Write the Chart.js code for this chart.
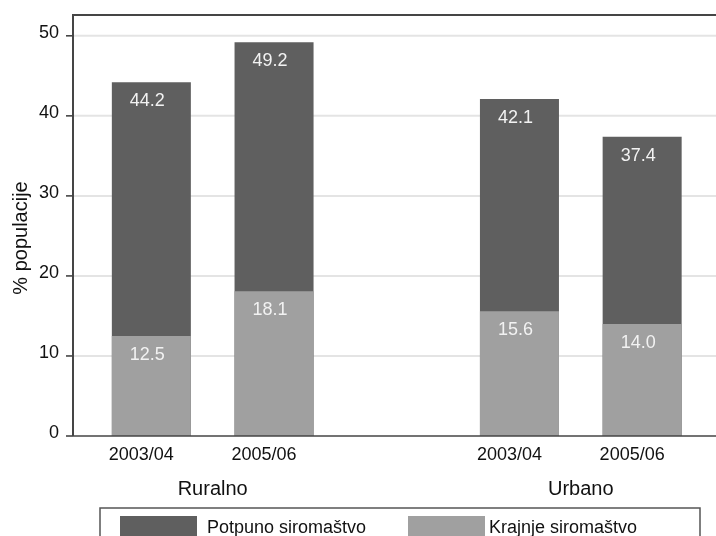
<!DOCTYPE html>
<html>
<head>
<meta charset="utf-8">
<script src="https://cdn.jsdelivr.net/npm/chart.js@4.4.1/dist/chart.umd.min.js"></script>
<style>
  html, body { margin: 0; padding: 0; background: #fff; }
</style>
</head>
<body>
<canvas id="povertyChart" width="716" height="536"></canvas>
<script>
// podaci
const periods = ['2003/04', '2005/06', '', '2003/04', '2005/06'];
const areas = ['Ruralno', 'Urbano'];
const areaSlots = [[0, 1], [3, 4]];
const seriesNames = ['Potpuno siromaštvo', 'Krajnje siromaštvo'];
const potpuno = [44.2, 49.2, null, 42.1, 37.4];
const krajnje = [12.5, 18.1, null, 15.6, 14.0];
const yTicks = [0, 10, 20, 30, 40, 50];
const yTitle = '% populacije';

const DARK = '#5f5f5f';
const LIGHT = '#a0a0a0';
const FONT = '"Liberation Sans", Arial, sans-serif';

// okvir, mreža i osi
const framePlugin = {
  id: 'frame',
  beforeDatasetsDraw(chart) {
    const { ctx, chartArea: a, scales: { y } } = chart;
    const left = a.left - 17, right = chart.width;
    ctx.save();
    ctx.strokeStyle = '#e4e4e4';
    ctx.lineWidth = 2;
    yTicks.forEach(v => {
      if (v === 0) return;
      const py = y.getPixelForValue(v);
      ctx.beginPath(); ctx.moveTo(left, py); ctx.lineTo(right, py); ctx.stroke();
    });
    ctx.restore();
  },
  afterDatasetsDraw(chart) {
    const { ctx, chartArea: a, scales: { x, y } } = chart;
    const left = a.left - 17, right = chart.width;
    ctx.save();
    ctx.strokeStyle = '#454545';
    ctx.lineWidth = 1.6;
    yTicks.forEach(v => {
      const py = y.getPixelForValue(v);
      ctx.beginPath(); ctx.moveTo(left - 7, py); ctx.lineTo(left, py); ctx.stroke();
    });
    ctx.beginPath(); ctx.moveTo(left, a.bottom); ctx.lineTo(right, a.bottom); ctx.stroke();
    ctx.lineWidth = 2;
    ctx.beginPath(); ctx.moveTo(left, a.bottom); ctx.lineTo(left, a.top); ctx.lineTo(right, a.top); ctx.stroke();

    // vrijednosti na stupcima
    ctx.fillStyle = '#f2f2f2';
    ctx.font = '18px ' + FONT;
    ctx.textAlign = 'center';
    ctx.textBaseline = 'middle';
    chart.data.datasets.forEach((ds, i) => {
      chart.getDatasetMeta(i).data.forEach((bar, j) => {
        if (ds.data[j] == null) return;
        ctx.fillText(ds.data[j].toFixed(1), bar.x - 4, bar.y + 19);
      });
    });

    // nazivi područja
    ctx.fillStyle = '#111';
    ctx.font = '20px ' + FONT;
    ctx.textBaseline = 'alphabetic';
    areas.forEach((name, k) => {
      const cx = areaSlots[k].reduce((s, idx) => s + x.getPixelForValue(idx), 0) / areaSlots[k].length;
      ctx.fillText(name, cx, 495);
    });

    // naslov y osi
    ctx.save();
    ctx.translate(27, 238);
    ctx.rotate(-Math.PI / 2);
    ctx.fillText(yTitle, 0, 0);
    ctx.restore();

    // legenda
    ctx.strokeStyle = '#555';
    ctx.lineWidth = 1.5;
    ctx.strokeRect(100, 508, 600, 40);
    const legendX = [[120, 207], [408, 489]];
    ctx.font = '18px ' + FONT;
    ctx.textAlign = 'left';
    chart.data.datasets.forEach((ds, i) => {
      const [sx, tx] = legendX[i];
      ctx.fillStyle = ds.backgroundColor;
      ctx.fillRect(sx, 516, 77, 25);
      ctx.fillStyle = '#111';
      ctx.fillText(ds.label, tx, 533);
    });
    ctx.restore();
  }
};

new Chart(document.getElementById('povertyChart'), {
  type: 'bar',
  data: {
    labels: periods,
    datasets: [
      { label: seriesNames[0], data: potpuno, backgroundColor: DARK, order: 1 },
      { label: seriesNames[1], data: krajnje, backgroundColor: LIGHT, order: 0 }
    ]
  },
  options: {
    responsive: false,
    animation: false,
    devicePixelRatio: 1,
    layout: { padding: { top: 15, right: 12.5, bottom: 0, left: 0 } },
    datasets: { bar: { grouped: false, categoryPercentage: 1, barPercentage: 0.644 } },
    plugins: { legend: { display: false }, tooltip: { enabled: false } },
    scales: {
      x: {
        grid: { display: false, drawTicks: false },
        border: { display: false },
        ticks: { color: '#111', font: { size: 18, family: FONT }, padding: 8, maxRotation: 0, labelOffset: -10 },
        afterFit(s) { s.height = 100; s.paddingLeft = 0; s.paddingRight = 0; }
      },
      y: {
        min: 0,
        max: 52.6,
        grid: { display: false, drawTicks: false },
        border: { display: false },
        ticks: { stepSize: 10, color: '#111', font: { size: 18, family: FONT }, padding: 31, labelOffset: -3 },
        afterBuildTicks(s) { s.ticks = yTicks.map(v => ({ value: v })); },
        afterFit(s) { s.width = 90; s.paddingTop = 0; s.paddingBottom = 0; }
      }
    }
  },
  plugins: [framePlugin]
});
</script>
</body>
</html>
